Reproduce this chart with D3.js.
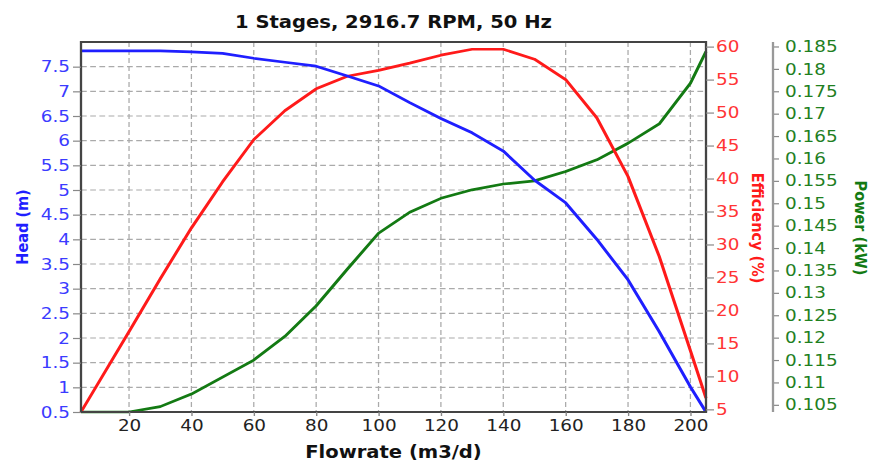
<!DOCTYPE html>
<html>
<head>
<meta charset="utf-8">
<script src="https://cdn.jsdelivr.net/npm/d3@7"></script>
<style>
  body { margin: 0; background: #fff; }
  svg text { font-family: "DejaVu Sans", "Open Sans", sans-serif; }
</style>
</head>
<body>
<svg id="chart" width="871" height="461"></svg>
<script>
// flowrate points (m3/d)
var flow = [4.6, 20, 30, 40, 50, 60, 70, 80, 90, 100, 110, 120, 130, 140, 150, 160, 170, 180, 190, 200, 205];
// head (m)
var head = [7.82, 7.82, 7.82, 7.80, 7.77, 7.67, 7.59, 7.51, 7.31, 7.11, 6.77, 6.45, 6.16, 5.79, 5.20, 4.74, 4.00, 3.18, 2.13, 1.01, 0.5];
// efficiency (%)
var eff = [4.6, 16.8, 24.8, 32.5, 39.5, 45.9, 50.3, 53.6, 55.5, 56.4, 57.5, 58.7, 59.6, 59.6, 58.1, 55.0, 49.2, 40.3, 28.2, 13.9, 6.7];
// power (kW)
var power = [0.1034, 0.1034, 0.1046, 0.1074, 0.1112, 0.1150, 0.1203, 0.1271, 0.1353, 0.1433, 0.1480, 0.1511, 0.1530, 0.1543, 0.1550, 0.1571, 0.1597, 0.1634, 0.1677, 0.1768, 0.1839];

var xTicks = [20, 40, 60, 80, 100, 120, 140, 160, 180, 200];
var headTicks = [0.5, 1, 1.5, 2, 2.5, 3, 3.5, 4, 4.5, 5, 5.5, 6, 6.5, 7, 7.5];
var effTicks = [5, 10, 15, 20, 25, 30, 35, 40, 45, 50, 55, 60];
var powerTicks = [0.105, 0.11, 0.115, 0.12, 0.125, 0.13, 0.135, 0.14, 0.145, 0.15, 0.155, 0.16, 0.165, 0.17, 0.175, 0.18, 0.185];

// the chart is drawn a bit wide: everything sits in a group stretched on x
var sx = 1.15;
function px(v) { return v / sx; }

var plotLeft = px(81), plotRight = px(706), plotTop = 42, plotBottom = 412;
var powerAxisX = px(773);

var blue = '#1f1fff', red = '#ff1a1a', green = '#137a13';
var blueText = '#3b3bff', redText = '#ff3535', greenText = '#1f801f';

var svg = d3.select('#chart').append('g')
    .attr('transform', 'scale(' + sx + ',1)');

var x = d3.scaleLinear().domain([4.6, 205]).range([plotLeft, plotRight]);
var yHead = d3.scaleLinear().domain([0.5, 8.0]).range([plotBottom, plotTop]);
var yEff = d3.scaleLinear().domain([4.6, 60.7]).range([plotBottom, plotTop]);
var yPow = d3.scaleLinear().domain([0.1034, 0.186]).range([plotBottom, plotTop]);

// grid
var grid = svg.append('g')
    .attr('stroke', '#aaa')
    .attr('stroke-width', 1.1)
    .attr('stroke-dasharray', '5,3');
grid.selectAll('line.v').data(xTicks).enter().append('line')
    .attr('x1', function(d) { return x(d); })
    .attr('x2', function(d) { return x(d); })
    .attr('y1', plotTop).attr('y2', plotBottom);
grid.selectAll('line.h').data(headTicks.slice(1)).enter().append('line')
    .attr('x1', plotLeft).attr('x2', plotRight)
    .attr('y1', function(d) { return yHead(d); })
    .attr('y2', function(d) { return yHead(d); });

// curves
function drawLine(vals, yScale, color) {
  var line = d3.line()
    .x(function(d, i) { return x(flow[i]); })
    .y(function(d) { return yScale(d); });
  svg.append('path')
    .datum(vals)
    .attr('fill', 'none')
    .attr('stroke', color)
    .attr('stroke-width', 2.7)
    .attr('stroke-linejoin', 'round')
    .attr('d', line);
}
drawLine(power, yPow, green);
drawLine(eff, yEff, red);
drawLine(head, yHead, blue);

// frame
svg.append('rect')
    .attr('x', plotLeft).attr('y', plotTop)
    .attr('width', plotRight - plotLeft).attr('height', plotBottom - plotTop)
    .attr('fill', 'none')
    .attr('stroke', '#444')
    .attr('stroke-width', 2);

// axes
function styleAxis(g, color, textColor) {
  g.select('.domain').remove();
  g.selectAll('.tick line').attr('stroke', color).attr('stroke-width', 1.2);
  g.selectAll('.tick text')
    .attr('fill', textColor)
    .style('font-size', '16px');
}

var xAxis = svg.append('g')
    .attr('transform', 'translate(0,' + plotBottom + ')')
    .call(d3.axisBottom(x).tickValues(xTicks).tickSize(4).tickPadding(4));
styleAxis(xAxis, '#888', '#222');

var headAxis = svg.append('g')
    .attr('transform', 'translate(' + plotLeft + ',0)')
    .call(d3.axisLeft(yHead).tickValues(headTicks).tickSize(px(8)).tickPadding(px(3))
      .tickFormat(function(d) { return String(d); }));
styleAxis(headAxis, '#888', blueText);

var effAxis = svg.append('g')
    .attr('transform', 'translate(' + plotRight + ',0)')
    .call(d3.axisRight(yEff).tickValues(effTicks).tickSize(px(8)).tickPadding(px(2)));
styleAxis(effAxis, '#888', redText);

var powAxis = svg.append('g')
    .attr('transform', 'translate(' + powerAxisX + ',0)')
    .call(d3.axisRight(yPow).tickValues(powerTicks).tickSize(px(6)).tickPadding(px(6))
      .tickFormat(d3.format('.3~f')));
styleAxis(powAxis, '#888', greenText);
powAxis.append('line')
    .attr('x1', 0).attr('x2', 0)
    .attr('y1', plotTop).attr('y2', plotBottom)
    .attr('stroke', '#999').attr('stroke-width', 2);

// title and axis titles
svg.append('text')
    .attr('x', (plotLeft + plotRight) / 2).attr('y', 28)
    .attr('text-anchor', 'middle')
    .style('font-size', '17px').style('font-weight', 'bold')
    .attr('fill', '#111')
    .text('1 Stages, 2916.7 RPM, 50 Hz');

svg.append('text')
    .attr('x', (plotLeft + plotRight) / 2).attr('y', 458)
    .attr('text-anchor', 'middle')
    .style('font-size', '17px').style('font-weight', 'bold')
    .attr('fill', '#111')
    .text('Flowrate (m3/d)');

svg.append('text')
    .attr('transform', 'translate(' + px(28) + ',227) rotate(-90)')
    .attr('text-anchor', 'middle')
    .style('font-size', '14.5px').style('font-weight', 'bold')
    .attr('fill', blue)
    .text('Head (m)');

svg.append('text')
    .attr('transform', 'translate(' + px(752) + ',228) rotate(90)')
    .attr('text-anchor', 'middle')
    .style('font-size', '14.5px').style('font-weight', 'bold')
    .attr('fill', red)
    .text('Efficiency (%)');

svg.append('text')
    .attr('transform', 'translate(' + px(855) + ',228) rotate(90)')
    .attr('text-anchor', 'middle')
    .style('font-size', '14.5px').style('font-weight', 'bold')
    .attr('fill', green)
    .text('Power (kW)');
</script>
</body>
</html>
